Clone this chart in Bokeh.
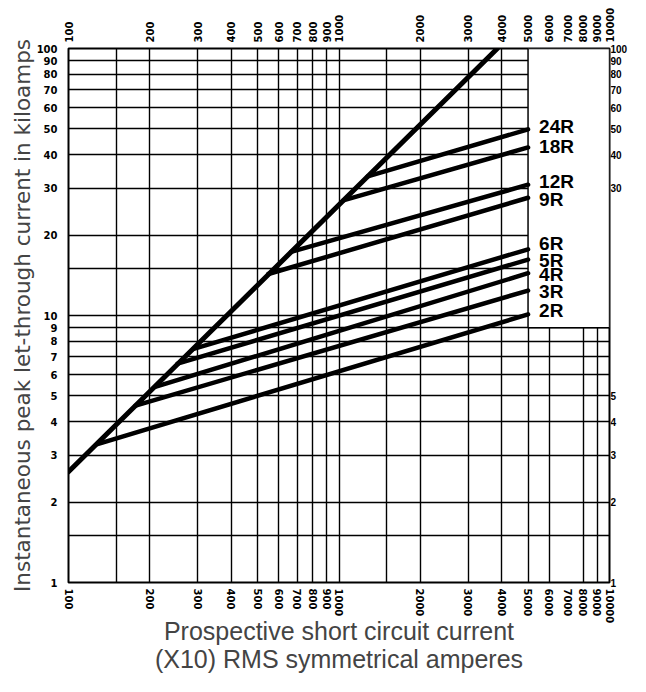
from bokeh.plotting import figure
from bokeh.models import LogAxis, FixedTicker, NumeralTickFormatter, Range1d
from bokeh.core.properties import value
from bokeh.embed import file_html
from bokeh.resources import INLINE

# ---- data ----
x_ticks = [100, 200, 300, 400, 500, 600, 700, 800, 900, 1000,
           2000, 3000, 4000, 5000, 6000, 7000, 8000, 9000, 10000]
y_ticks_left = [1, 2, 3, 4, 5, 6, 7, 8, 9, 10, 20, 30, 40, 50, 60, 70, 80, 90, 100]
y_ticks_right = [1, 2, 3, 4, 5, 30, 40, 50, 60, 70, 80, 90, 100]
x_grid = [150, 200, 300, 400, 500, 600, 700, 800, 900, 1000, 1500,
          2000, 3000, 4000, 5000, 6000, 8000, 9000]
y_grid = [1.5, 2, 3, 4, 5, 6, 7, 8, 9, 10, 15, 20, 30, 40, 50, 60, 70, 80, 90]

diag_x = [100, 3850]
diag_y = [2.6, 100]

ratings = ["2R", "3R", "4R", "5R", "6R", "9R", "12R", "18R", "24R"]
start_x = [128, 177, 209, 253, 290, 548, 665, 1037, 1277]
start_y = [3.3, 4.6, 5.4, 6.6, 7.5, 14.3, 17.3, 27.0, 33.2]
end_x = [5000] * 9
end_y = [10.1, 12.4, 14.4, 16.2, 17.7, 27.6, 30.9, 42.6, 49.8]
label_y = [10.4, 12.3, 14.2, 16.1, 18.6, 27.1, 31.7, 42.8, 51.2]

box_x = [5000, 10000]
box_y = [9, 100]

x_title = "Prospective short circuit current\n(X10) RMS symmetrical amperes"
y_title = "Instantaneous peak let-through current in kiloamps"

# ---- figure ----
p = figure(width=630, height=676, x_axis_type="log", y_axis_type="log",
           x_range=Range1d(100, 10000), y_range=Range1d(1, 100),
           output_backend="svg", toolbar_location=None,
           min_border_left=68, min_border_top=48, min_border_bottom=0,
           min_border_right=0)
p.background_fill_color = "white"
p.border_fill_color = "white"
p.outline_line_color = "black"
p.outline_line_width = 2

lab_font = "DejaVu Sans"

def style_axis(ax, size, font=lab_font):
    ax.axis_line_color = None
    ax.major_tick_line_color = None
    ax.minor_tick_line_color = None
    ax.major_tick_out = 0
    ax.major_tick_in = 0
    ax.minor_tick_out = 0
    ax.minor_tick_in = 0
    ax.major_label_text_font = font
    ax.major_label_text_font_style = "bold"
    ax.major_label_text_font_size = size
    ax.major_label_text_color = "black"
    ax.formatter = NumeralTickFormatter(format="0")

# bottom
xb = p.below[0]
xb.ticker = FixedTicker(ticks=x_ticks)
style_axis(xb, "10px")
xb.major_label_orientation = "vertical"
xb.major_label_standoff = 6
xb.axis_label = x_title
xb.axis_label_text_font = "Liberation Sans"
xb.axis_label_text_font_style = "normal"
xb.axis_label_text_font_size = "25px"
xb.axis_label_text_line_height = 1.0
xb.axis_label_standoff = -9

# top
xt = LogAxis(ticker=FixedTicker(ticks=x_ticks))
style_axis(xt, "10px")
xt.major_label_orientation = "vertical"
xt.major_label_standoff = 6
p.add_layout(xt, "above")

# left
yl = p.left[0]
yl.ticker = FixedTicker(ticks=y_ticks_left)
style_axis(yl, "10px")
yl.major_label_standoff = 11
yl.axis_label = y_title
yl.axis_label_text_font = "DejaVu Sans"
yl.axis_label_text_font_style = "normal"
yl.axis_label_text_font_size = "21.5px"
yl.axis_label_standoff = -1

# right
yr = LogAxis(ticker=FixedTicker(ticks=y_ticks_right), axis_label=None)
style_axis(yr, "10px", "Liberation Sans")
yr.major_label_standoff = 1
yr.axis_label_standoff = 0
p.add_layout(yr, "right")

# grid
p.xgrid.ticker = FixedTicker(ticks=x_grid)
p.ygrid.ticker = FixedTicker(ticks=y_grid)
for g in (p.xgrid[0], p.ygrid[0]):
    g.grid_line_color = "black"
    g.grid_line_width = 1.4
    g.grid_line_alpha = 1.0

# white label box
p.quad(left=[box_x[0]], right=[box_x[1]], bottom=[box_y[0]], top=[box_y[1]],
       fill_color="white", line_color="black", line_width=1.4)

# curves
p.line(diag_x, diag_y, line_color="black", line_width=5, line_cap="round")
p.segment(x0=start_x, y0=start_y, x1=end_x, y1=end_y,
          line_color="black", line_width=4.5, line_cap="round")

p.text(x=end_x, y=label_y, text=ratings, x_offset=11,
       text_baseline="middle", text_align="left",
       text_font=value("Liberation Sans"), text_font_size="19px",
       text_font_style="bold", text_color="black")

open("out.html", "w").write(file_html(p, INLINE))
